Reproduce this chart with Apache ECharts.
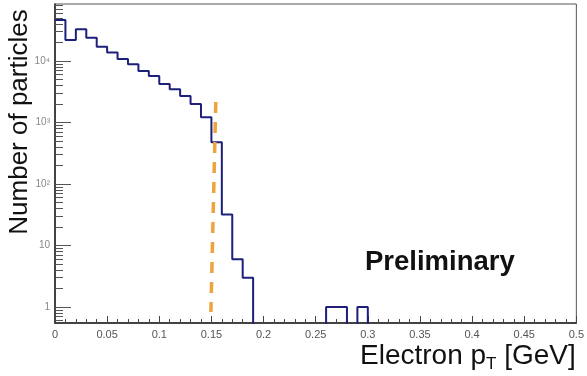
<!DOCTYPE html>
<html>
<head>
<meta charset="utf-8">
<script src="https://cdn.jsdelivr.net/npm/echarts@6/dist/echarts.min.js"></script>
<style>
  html, body { margin: 0; padding: 0; background: #fff; }
  #chart { width: 587px; height: 376px; }
</style>
</head>
<body>
<div id="chart"></div>
<script>
// Electron transverse-momentum spectrum, 0.01 GeV bins from 0 to 0.5 GeV
const binWidth = 0.01;
const xMin = 0;
const xMax = 0.5;
const counts = [
  46400, 21900, 32800, 23900, 17100, 13800, 10800, 8840, 6880, 5700,
  4230, 3470, 2700, 2000, 1215, 476, 32, 6, 3, 0,
  0, 0, 0, 0, 0, 0, 1, 1, 0, 1,
  0, 0, 0, 0, 0, 0, 0, 0, 0, 0,
  0, 0, 0, 0, 0, 0, 0, 0, 0, 0
];

// pT cut marker (dashed line), [pT, count] at its two ends
const cutLine = [[0.1542, 2150], [0.1495, 0.83]];

// vertical log range
const yMin = 0.55;
const yMax = 84500;

// decade ticks and their labels
const decadeTicks = [1, 10, 100, 1000, 10000];
const decadeLabels = ['1', '10', '10²', '10³', '10⁴'];
const minorSteps = [2, 3, 4, 5, 6, 7, 8, 9];

const minorTicks = [];
[0.1, 1, 10, 100, 1000, 10000].forEach(d => {
  minorSteps.forEach(k => {
    const v = +(k * d).toPrecision(6);
    if (v >= yMin && v <= yMax) minorTicks.push(v);
  });
});

// histogram outline: one point per bin low edge, plus the upper edge of the last bin;
// empty bins sit below the axis so the outline drops out of view
const stepData = counts.map((c, i) => [+(i * binWidth).toFixed(2), c > 0 ? c : yMin / 2]);
stepData.push([xMax, counts[counts.length - 1] > 0 ? counts[counts.length - 1] : yMin / 2]);

const font = 'Liberation Sans, Arial, Helvetica, sans-serif';
const chart = echarts.init(document.getElementById('chart'), null, { renderer: 'canvas' });

const yBase = {
  type: 'log',
  logBase: 10,
  min: yMin,
  max: yMax,
  position: 'left',
  splitLine: { show: false },
  minorSplitLine: { show: false }
};

chart.setOption({
  animation: false,
  backgroundColor: '#fff',
  grid: {
    left: 55, right: 1, top: 4, bottom: 53,
    show: true, borderColor: '#555', borderWidth: 1, backgroundColor: 'transparent'
  },
  xAxis: {
    type: 'value',
    min: xMin,
    max: xMax,
    interval: 0.05,
    axisLine: { show: true, onZero: false, lineStyle: { color: '#222', width: 1.5 } },
    axisTick: { show: true, inside: true, length: 7, lineStyle: { color: '#444', width: 1 } },
    minorTick: { show: true, splitNumber: 5, length: 4, lineStyle: { color: '#444', width: 1 } },
    splitLine: { show: false },
    axisLabel: {
      margin: 6, fontSize: 11, color: '#555', fontFamily: font,
      formatter: v => (Math.abs(v) < 1e-9 ? '0' : String(+v.toFixed(2)))
    }
  },
  yAxis: [
    Object.assign({}, yBase, {
      axisLine: { show: true, lineStyle: { color: '#222', width: 1.5 } },
      axisTick: { show: true, inside: true, length: 16, customValues: decadeTicks, lineStyle: { color: '#555', width: 1 } },
      axisLabel: {
        show: true, margin: 5, fontSize: 10, color: '#888', fontFamily: font,
        customValues: decadeTicks,
        formatter: v => {
          const i = decadeTicks.findIndex(d => Math.abs(d - v) / d < 1e-6);
          return i >= 0 ? decadeLabels[i] : '';
        }
      }
    }),
    Object.assign({}, yBase, {
      axisLine: { show: false },
      axisTick: { show: true, inside: true, length: 8, customValues: minorTicks, lineStyle: { color: '#555', width: 1 } },
      axisLabel: { show: false }
    })
  ],
  series: [
    {
      type: 'line',
      name: 'electrons',
      step: 'end',
      data: stepData,
      yAxisIndex: 0,
      symbol: 'none',
      clip: true,
      lineStyle: { color: '#1d1f7a', width: 2 },
      z: 3
    },
    {
      type: 'line',
      name: 'cut',
      data: cutLine,
      yAxisIndex: 0,
      symbol: 'none',
      clip: false,
      lineStyle: { color: '#f0a23c', width: 3.5, type: [11, 9] },
      z: 4
    }
  ],
  graphic: [
    {
      type: 'text',
      x: 20, y: 122,
      rotation: Math.PI / 2,
      style: {
        text: 'Number of particles',
        font: '26px ' + font,
        fill: '#111',
        align: 'center',
        verticalAlign: 'middle'
      }
    },
    {
      type: 'text',
      x: 360, y: 356,
      style: {
        text: '{a|Electron p}{s|T}{a| [GeV]}',
        align: 'left',
        verticalAlign: 'middle',
        fill: '#111',
        rich: {
          a: { fontSize: 28, fontFamily: font, lineHeight: 30, fill: '#111' },
          s: { fontSize: 17, fontFamily: font, lineHeight: 17, padding: [17, 0, 0, 0], fill: '#111' }
        }
      }
    },
    {
      type: 'text',
      x: 365, y: 262,
      style: {
        text: 'Preliminary',
        font: 'bold 27.5px ' + font,
        fill: '#111',
        align: 'left',
        verticalAlign: 'middle'
      }
    }
  ]
});
</script>
</body>
</html>
